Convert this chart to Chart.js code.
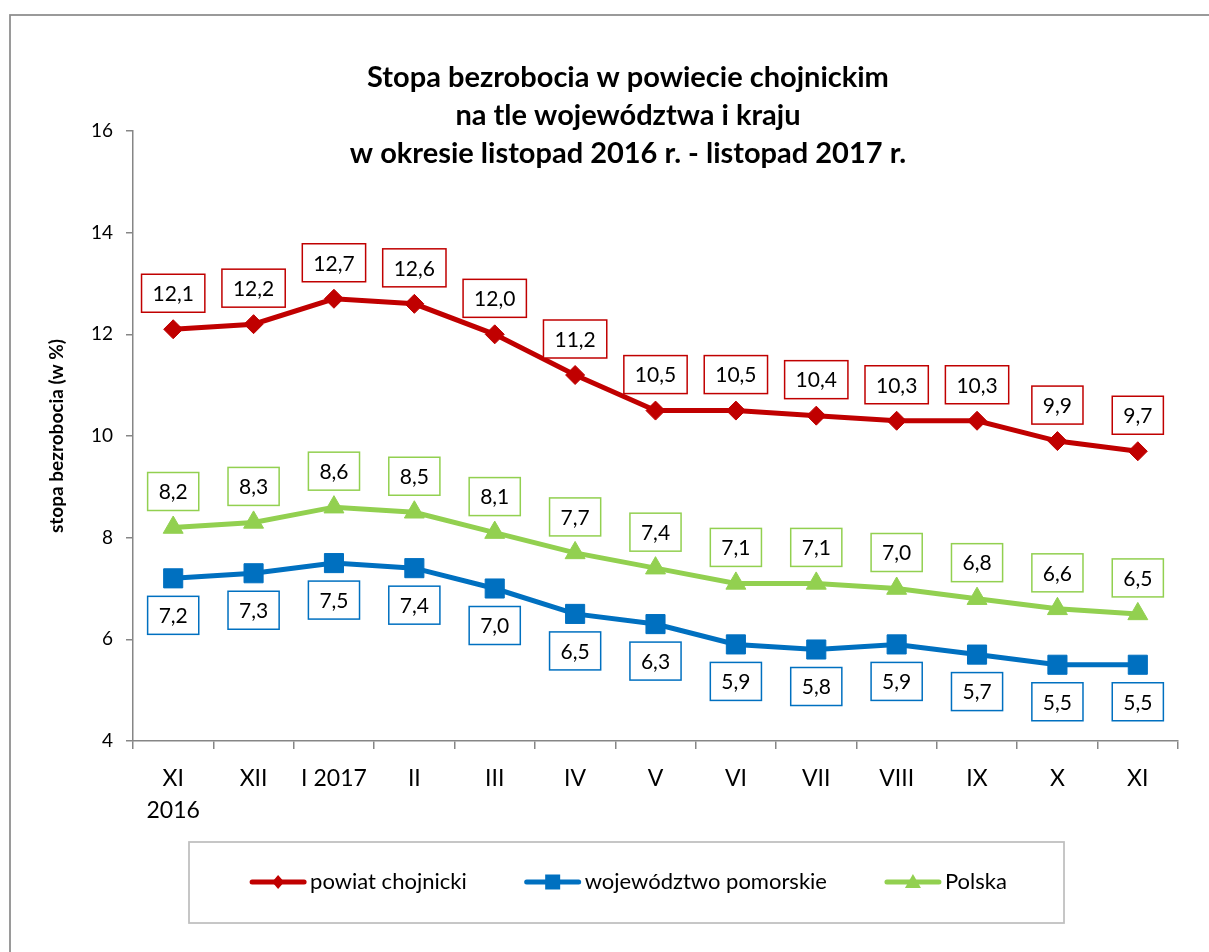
<!DOCTYPE html>
<html><head><meta charset="utf-8">
<script src="https://cdn.jsdelivr.net/npm/chart.js@4.4.1/dist/chart.umd.min.js"></script>
<style>html,body{margin:0;padding:0;background:#fff}canvas{display:block}</style>
</head><body>
<canvas id="c" width="1209" height="952"></canvas>
<script>
const categories = [['XI','2016'],'XII','I 2017','II','III','IV','V','VI','VII','VIII','IX','X','XI'];
const powiat = [12.1,12.2,12.7,12.6,12.0,11.2,10.5,10.5,10.4,10.3,10.3,9.9,9.7];
const wojewodztwo = [7.2,7.3,7.5,7.4,7.0,6.5,6.3,5.9,5.8,5.9,5.7,5.5,5.5];
const polska = [8.2,8.3,8.6,8.5,8.1,7.7,7.4,7.1,7.1,7.0,6.8,6.6,6.5];
const seriesNames = ['powiat chojnicki','województwo pomorskie','Polska'];
const titleLines = ['Stopa bezrobocia w powiecie chojnickim','na tle województwa i kraju','w okresie listopad 2016 r. - listopad 2017 r.'];
const yTitle = 'stopa bezrobocia (w %)';
const yMin = 4, yMax = 16, yStep = 2;

const RED = '#C00000', BLUE = '#0070C0', GREEN = '#92D050', AXIS = '#868686';
const FONT = 'Lato';

function fmt(v){ return v.toFixed(1).replace('.', ','); }

const decor = {
  id: 'decor',
  beforeDraw(chart){
    const ctx = chart.ctx;
    ctx.save();
    ctx.fillStyle = '#fff';
    ctx.fillRect(0,0,chart.width,chart.height);
    ctx.strokeStyle = '#8c8c8c';
    ctx.lineWidth = 1.75;
    ctx.strokeRect(10, 15, 1210, 960);
    ctx.restore();
  },
  afterDatasetsDraw(chart){
    const ctx = chart.ctx;
    ctx.save();
    ctx.font = '21px ' + FONT;
    ctx.textAlign = 'center';
    ctx.textBaseline = 'middle';
    chart.data.datasets.forEach((ds, i) => {
      const meta = chart.getDatasetMeta(i);
      meta.data.forEach((pt, j) => {
        const txt = fmt(ds.data[j]);
        const w = ctx.measureText(txt).width + 22;
        const h = 38;
        let top;
        if (ds.labelPos === 'below') top = pt.y + 18;
        else top = pt.y - 17 - h;
        const left = pt.x - w/2;
        ctx.fillStyle = '#fff';
        ctx.fillRect(left, top, w, h);
        ctx.strokeStyle = ds.borderColor;
        ctx.lineWidth = 1.5;
        ctx.strokeRect(left, top, w, h);
        ctx.fillStyle = '#000';
        ctx.fillText(txt, pt.x, top + h/2 + 1);
      });
    });
    ctx.restore();
  },
  afterDraw(chart){
    const ctx = chart.ctx;
    ctx.save();
    // title
    ctx.fillStyle = '#000';
    ctx.font = 'bold 29px ' + FONT;
    ctx.textAlign = 'center';
    ctx.textBaseline = 'alphabetic';
    const tb = [87, 125, 163];
    titleLines.forEach((t, i) => ctx.fillText(t, 628, tb[i]));
    // y title
    ctx.save();
    ctx.translate(63, 436);
    ctx.rotate(-Math.PI/2);
    ctx.font = 'bold 19px ' + FONT;
    ctx.fillText(yTitle, 0, 0);
    ctx.restore();
    // legend
    const bx = 189, by = 842, bw = 875, bh = 81;
    ctx.strokeStyle = '#bfbfbf';
    ctx.lineWidth = 1.75;
    ctx.strokeRect(bx, by, bw, bh);
    ctx.font = '22px ' + FONT;
    const symW = 56, gapT = 4, gapI = 58;
    const widths = seriesNames.map(n => symW + gapT + ctx.measureText(n).width);
    const total = widths.reduce((a,b)=>a+b,0) + gapI*(seriesNames.length-1);
    let x = bx + bw/2 - total/2 + 2;
    const cy = by + 40;
    chart.data.datasets.forEach((ds, i) => {
      ctx.strokeStyle = ds.borderColor;
      ctx.lineWidth = 5;
      ctx.lineCap = 'round';
      ctx.beginPath();
      ctx.moveTo(x + 2, cy); ctx.lineTo(x + symW - 2, cy); ctx.stroke();
      ctx.fillStyle = ds.borderColor;
      const mx = x + symW/2;
      ctx.beginPath();
      if (ds.pointStyle === 'rectRot') {
        ctx.moveTo(mx, cy-7); ctx.lineTo(mx+6, cy); ctx.lineTo(mx, cy+7); ctx.lineTo(mx-6, cy);
      } else if (ds.pointStyle === 'rect') {
        ctx.rect(mx-7.5, cy-7.5, 15, 15);
      } else {
        ctx.moveTo(mx, cy-8); ctx.lineTo(mx+8, cy+6); ctx.lineTo(mx-8, cy+6);
      }
      ctx.closePath(); ctx.fill();
      ctx.fillStyle = '#000';
      ctx.textAlign = 'left';
      ctx.textBaseline = 'middle';
      ctx.fillText(seriesNames[i], x + symW + gapT, cy);
      x += widths[i] + gapI;
    });
    ctx.restore();
  }
};

new Chart(document.getElementById('c'), {
  type: 'line',
  data: {
    labels: categories,
    datasets: [
      { label: seriesNames[0], data: powiat, borderColor: RED, backgroundColor: RED, pointBackgroundColor: RED, pointBorderColor: RED,
        pointStyle: 'rectRot', pointRadius: 9.5, borderWidth: 5, pointBorderWidth: 1, tension: 0, fill: false, labelPos: 'above' },
      { label: seriesNames[1], data: wojewodztwo, borderColor: BLUE, backgroundColor: BLUE, pointBackgroundColor: BLUE, pointBorderColor: BLUE,
        pointStyle: 'rect', pointRadius: 13.5, borderWidth: 5, pointBorderWidth: 1, tension: 0, fill: false, labelPos: 'below' },
      { label: seriesNames[2], data: polska, borderColor: GREEN, backgroundColor: GREEN, pointBackgroundColor: GREEN, pointBorderColor: GREEN,
        pointStyle: 'triangle', pointRadius: 11.5, borderWidth: 5, pointBorderWidth: 1, tension: 0, fill: false, labelPos: 'above' }
    ]
  },
  options: {
    responsive: false, animation: false, devicePixelRatio: 1,
    events: [],
    layout: { padding: { left: 0, right: 31, top: 131, bottom: 111 } },
    plugins: { legend: { display: false }, title: { display: false }, tooltip: { enabled: false } },
    scales: {
      x: {
        offset: true,
        grid: { offset: true, drawOnChartArea: false, drawTicks: true, tickLength: 8, color: AXIS, lineWidth: 1.5 },
        border: { color: AXIS, width: 1.5 },
        ticks: { font: { family: FONT, size: 23, lineHeight: 1.4 }, color: '#000', padding: 13, maxRotation: 0, autoSkip: false },
        afterFit(s){ s.height = 100; }
      },
      y: {
        min: yMin, max: yMax,
        grid: { drawOnChartArea: false, drawTicks: true, tickLength: 7, color: AXIS, lineWidth: 1.5 },
        border: { color: AXIS, width: 1.5 },
        ticks: { stepSize: yStep, font: { family: FONT, size: 19 }, color: '#000', padding: 13 },
        afterFit(s){ s.width = 133; }
      }
    }
  },
  plugins: [decor]
});
</script>
</body></html>
